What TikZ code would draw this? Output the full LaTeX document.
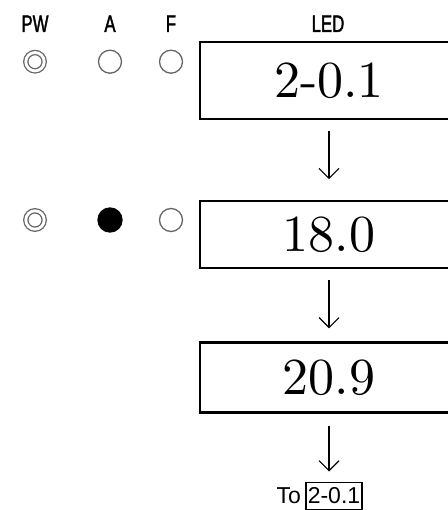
\documentclass[tikz,border=0pt]{standalone}
\usepackage{fontspec}
\newfontfamily\tagfont[FakeStretch=0.7, FakeBold=1.5]{Liberation Sans}
\newfontfamily\notefont{Liberation Sans}
\newfontfamily\digitfont{lmroman10-regular.otf}
\usetikzlibrary{arrows.meta, positioning}

\begin{document}
\begin{tikzpicture}[
        x=1pt, y=-1pt,
        node distance=70pt,
        tag/.style={anchor=base, inner sep=0pt, font=\tagfont\fontsize{24}{28}\selectfont},
        led/.style={rectangle, draw, line width=2.2pt, minimum width=258pt, minimum height=70pt, font=\digitfont\fontsize{52}{60}\selectfont},
        lamp/.style={circle, draw=black!60, line width=1.3pt, minimum size=23pt, inner sep=0pt},
        pwlamp/.style={lamp, minimum size=18.4pt, double, double distance=2.8pt},
        note/.style={font=\notefont\fontsize{23}{27}\selectfont},
        arrow/.style={-{Straight Barb[length=10pt, width=20pt]}, line width=1.1pt}
    ]
        \useasboundingbox (0,0) rectangle (447,510);

        % Headings
        \node[tag] (pwtag) at (35,32) {PW};
        \node[tag] (atag) at (110,32) {A};
        \node[tag] (ftag) at (171,32) {F};
        \node[tag] (ledtag) at (328,32) {LED};

        % Display boxes
        \node[led, minimum height=77pt] (led1) at (329,80.5) {2-0.1};
        \node[led, minimum height=67pt, below=80pt of led1] (led2) {18.0};
        \node[led, below=72pt of led2] (led3) {20.9};

        % Lamps
        \node[pwlamp] (pw1) at (35,61.7) {};
        \node[lamp] (a1) at (110,61.7) {};
        \node[lamp] (f1) at (171,61.7) {};
        \node[pwlamp] (pw2) at (35,220) {};
        \node[lamp, draw=black, fill=black, minimum size=24pt] (a2) at (110,220) {};
        \node[lamp] (f2) at (171,220) {};

        % Back to start
        \node[note, draw, line width=1.6pt, inner xsep=2pt, inner ysep=0pt, minimum height=27pt, below=68pt of led3, xshift=5pt] (back) {2-0.1};
        \node[note, inner sep=0pt, left=4pt of back] (to) {To};

        % Connections
        \draw[arrow, shorten <=11pt, shorten >=21pt] (led1) -- (led2);
        \draw[arrow, shorten <=11pt, shorten >=13pt] (led2) -- (led3);
        \draw[arrow, shorten <=12pt, shorten >=10pt] (led3.south) -- (led3.south |- back.north);
    \end{tikzpicture}
\end{document}
